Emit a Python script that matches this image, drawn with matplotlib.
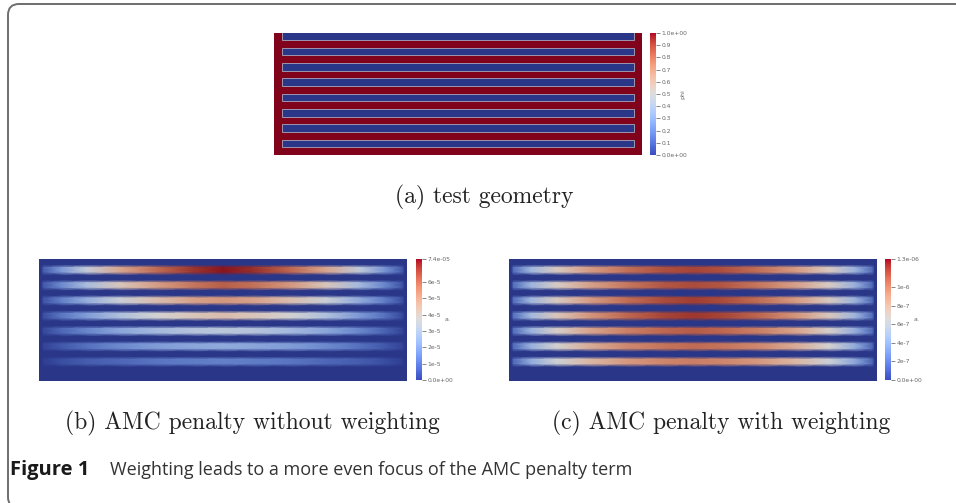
import numpy as np
import matplotlib
matplotlib.use("Agg")
import matplotlib.pyplot as plt
from matplotlib.colors import ListedColormap, Normalize
from matplotlib.cm import ScalarMappable
from matplotlib.patches import FancyBboxPatch, Rectangle

W, H = 956, 503

# --- data ------------------------------------------------------------------
# domain is 368 x 122 grid units (length x height), y measured from the top
dom_w, dom_h = 368.0, 122.0

# (a) test geometry: phi = 0 inside the 8 channels, 1 in the walls
channel_centers = [3.2, 18.5, 33.8, 49.1, 64.4, 79.7, 95.0, 110.3]
channel_half = 3.8
channel_inset = 8.0
phi_ticks = [0.0, 0.1, 0.2, 0.3, 0.4, 0.5, 0.6, 0.7, 0.8, 0.9, 1.0]
phi_labels = ["0.0e+00", "0.1", "0.2", "0.3", "0.4", "0.5", "0.6", "0.7", "0.8", "0.9", "1.0e+00"]

# (b),(c): penalty lives in the 7 walls between the channels
wall_centers = [11.0, 26.3, 41.5, 56.8, 72.0, 87.4, 102.7]
x_cols = [0.012, 0.06, 0.13, 0.22, 0.32, 0.42, 0.5, 0.58, 0.68, 0.78, 0.87, 0.94, 0.988]

# (b) without weighting, units of 1e-5
pen_b = [
    [0.8, 2.0, 3.4, 4.8, 5.9, 6.8, 7.2, 6.9, 6.0, 4.8, 3.3, 1.9, 0.7],
    [0.7, 1.7, 2.9, 4.1, 5.0, 5.7, 6.1, 5.8, 5.1, 4.1, 2.8, 1.6, 0.6],
    [0.6, 1.5, 2.5, 3.5, 4.3, 4.9, 5.1, 4.9, 4.3, 3.5, 2.4, 1.4, 0.5],
    [0.5, 1.3, 2.1, 3.0, 3.7, 4.1, 4.3, 4.1, 3.7, 3.0, 2.0, 1.2, 0.4],
    [0.4, 1.0, 1.6, 2.3, 2.8, 3.1, 3.2, 3.1, 2.8, 2.3, 1.6, 0.9, 0.3],
    [0.3, 0.7, 1.2, 1.7, 2.1, 2.3, 2.4, 2.3, 2.1, 1.7, 1.2, 0.7, 0.3],
    [0.2, 0.5, 0.8, 1.0, 1.3, 1.4, 1.5, 1.4, 1.3, 1.0, 0.8, 0.5, 0.2],
]
b_max = 7.4
b_ticks = [0, 1, 2, 3, 4, 5, 6, 7.4]
b_labels = ["0.0e+00", "1e-5", "2e-5", "3e-5", "4e-5", "5e-5", "6e-5", "7.4e-05"]

# (c) with weighting, units of 1e-7
pen_c = [
    [2.0, 4.8, 7.0, 8.8, 10.2, 11.2, 11.5, 11.2, 10.2, 8.8, 7.0, 4.6, 1.8],
    [2.0, 4.7, 6.9, 8.6, 10.0, 11.0, 11.3, 11.0, 10.0, 8.6, 6.9, 4.5, 1.8],
    [2.0, 4.8, 7.0, 8.8, 10.3, 11.3, 11.7, 11.3, 10.3, 8.8, 7.0, 4.6, 1.8],
    [2.1, 4.9, 7.2, 9.0, 10.5, 11.5, 11.9, 11.5, 10.5, 9.0, 7.1, 4.7, 1.9],
    [2.0, 4.6, 6.8, 8.5, 9.7, 10.5, 10.8, 10.5, 9.7, 8.5, 6.7, 4.4, 1.8],
    [1.9, 4.5, 6.6, 8.2, 9.4, 10.1, 10.4, 10.1, 9.4, 8.2, 6.5, 4.3, 1.7],
    [1.8, 4.3, 6.3, 7.8, 8.9, 9.5, 9.8, 9.5, 8.9, 7.8, 6.2, 4.1, 1.6],
]
c_max = 13.0
c_ticks = [0, 2, 4, 6, 8, 10, 13]
c_labels = ["0.0e+00", "2e-7", "4e-7", "6e-7", "8e-7", "1e-6", "1.3e-06"]

# --- colormaps: ParaView cool-to-warm; surfaces look a bit darker (lit) ------
cbar_cmap = plt.get_cmap("coolwarm")
s = np.linspace(0, 1, 256)
cols = cbar_cmap(s)
shade = 0.71 + 0.24 * (1 - np.abs(2 * s - 1))
cols[:, :3] *= shade[:, None]
img_cmap = ListedColormap(cols)

fig = plt.figure(figsize=(W / 100, H / 100), dpi=100)

# background axes in pixel units: frame + captions
bg = fig.add_axes([0, 0, 1, 1], zorder=-5)
bg.set_xlim(0, W)
bg.set_ylim(H, 0)
bg.axis("off")
bg.add_patch(FancyBboxPatch((8, 4), 1000, 504, boxstyle="round,pad=0,rounding_size=11",
                            fc="white", ec="#6e6e6e", lw=1.4, clip_on=False))


def px_axes(x0, y0, x1, y1):
    return fig.add_axes([x0 / W, 1 - y1 / H, (x1 - x0) / W, (y1 - y0) / H])


def field_axes(ax):
    ax.set_xlim(0, dom_w)
    ax.set_ylim(dom_h, 0)
    ax.set_xticks([])
    ax.set_yticks([])
    for sp in ax.spines.values():
        sp.set_visible(False)


def colorbar(cax, vmax, ticks, labels, title, title_x, title_rot):
    sm = ScalarMappable(norm=Normalize(0, vmax), cmap=cbar_cmap)
    cb = fig.colorbar(sm, cax=cax, ticks=ticks)
    cb.outline.set_visible(False)
    cb.ax.set_yticklabels(labels)
    cb.ax.tick_params(length=3, width=0.5, pad=1, labelsize=4.3,
                      colors="#555555", direction="out")
    for t in cb.ax.get_yticklabels():
        t.set_color("#666666")
    cax.text(title_x, 0.5, title, transform=cax.transAxes, rotation=title_rot,
             fontsize=4.5, color="#666666", ha="center", va="center")
    return cb


# (a) test geometry
ax_a = px_axes(274, 33, 642, 155)
field_axes(ax_a)
ax_a.add_patch(Rectangle((0, 0), dom_w, dom_h, fc=img_cmap(1.0), ec="none"))
for c in channel_centers:
    ax_a.add_patch(Rectangle((channel_inset, c - channel_half),
                             dom_w - 2 * channel_inset, 2 * channel_half,
                             fc=img_cmap(0.0), ec="#a9a9bd", lw=0.6))
cax_a = px_axes(650, 33, 656, 155)
colorbar(cax_a, 1.0, phi_ticks, phi_labels, "phi", 5.5, 90)


# (b) and (c) penalty fields
def penalty_panel(ax, table, vmax):
    field_axes(ax)
    ax.set_facecolor(img_cmap(0.0))
    xs = [0.0, 0.006] + list(x_cols) + [0.994, 1.0]
    xs = np.array(xs) * dom_w
    for yc, row in zip(wall_centers, table):
        vals = [0.0, 0.0] + list(row) + [0.0, 0.0]
        ys = [yc - 5.0, yc - 2.4, yc + 2.4, yc + 5.0]
        X, Y = np.meshgrid(xs, ys)
        C = np.array([[0.0] * len(vals), vals, vals, [0.0] * len(vals)])
        ax.pcolormesh(X, Y, C, shading="gouraud", cmap=img_cmap,
                      vmin=0, vmax=vmax, rasterized=True)


ax_b = px_axes(39, 259, 407, 381)
penalty_panel(ax_b, pen_b, b_max)
cax_b = px_axes(416, 259, 422, 380)
colorbar(cax_b, b_max, b_ticks, b_labels, "a.", 5.3, 0)

ax_c = px_axes(509, 259, 877, 381)
penalty_panel(ax_c, pen_c, c_max)
cax_c = px_axes(885, 259, 891, 380)
colorbar(cax_c, c_max, c_ticks, c_labels, "a.", 5.3, 0)

# captions
cap = dict(family="cmr10", fontsize=17, color="#222222", ha="center", va="center")
bg.text(484, 197, "(a) test geometry", **cap)
bg.text(252, 423, "(b) AMC penalty without weighting", **cap)
bg.text(721, 423, "(c) AMC penalty with weighting", **cap)

bg.text(10, 470, "Figure 1", family="Open Sans", fontweight="bold", fontsize=14.5,
        color="#1a1a1a", ha="left", va="center")
bg.text(110, 470, "Weighting leads to a more even focus of the AMC penalty term",
        family="Open Sans", fontsize=13, color="#333333", ha="left", va="center")

fig.savefig("out.png", dpi=100)
